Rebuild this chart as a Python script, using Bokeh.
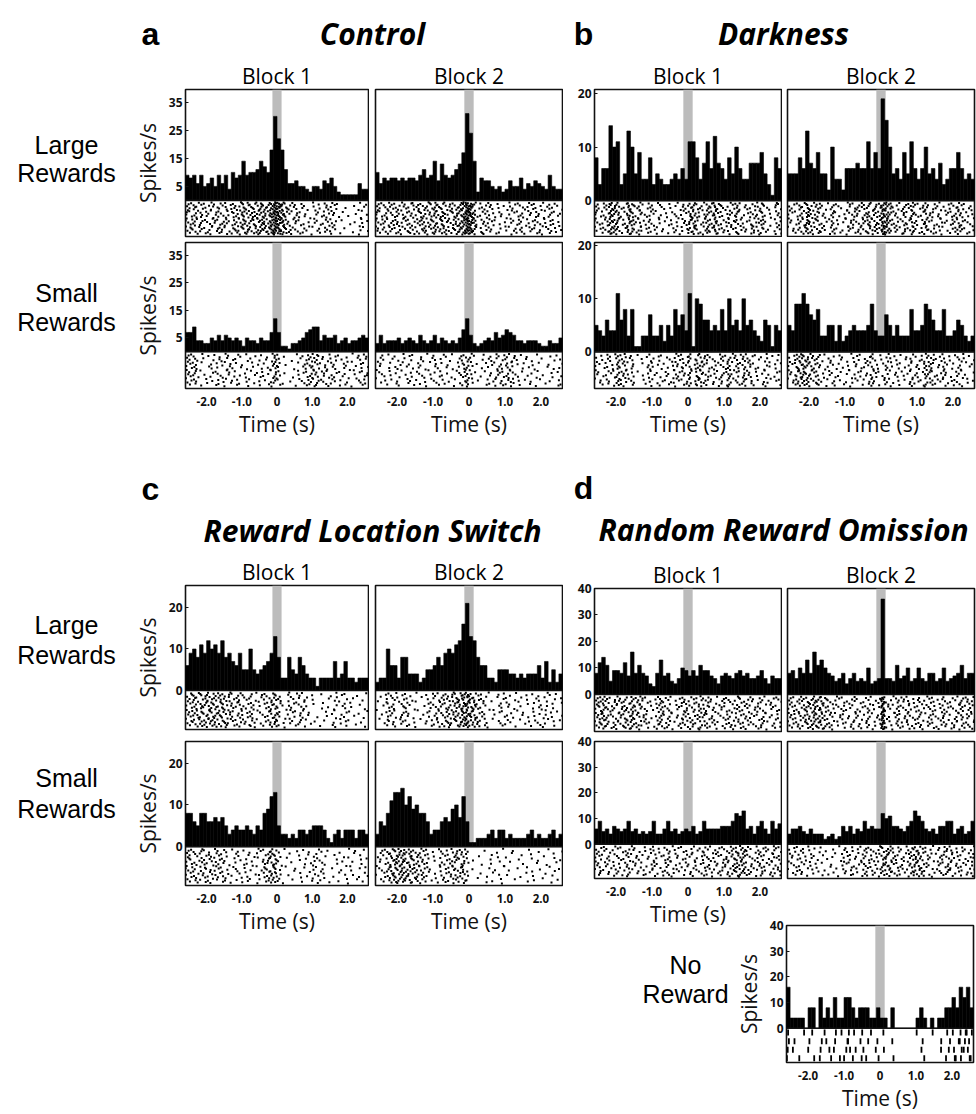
from bokeh.plotting import figure
from bokeh.models import Range1d, LinearAxis, FixedTicker, Label, Span, BoxAnnotation, Title
from bokeh.layouts import row, column
from bokeh.embed import file_html
from bokeh.resources import INLINE

# ---------------- data ----------------
BIN = 0.1
T0 = -2.6
N_BINS = 52
bin_centers = [round(T0 + BIN * (i + 0.5), 3) for i in range(N_BINS)]
x_ticks = [-2, -1, 0, 1, 2]
x_tick_labels = {-2: "-2.0", -1: "-1.0", 0: "0", 1: "1.0", 2: "2.0"}
cue_window = (-0.13, 0.13)

# firing rate (spikes/s) per 100 ms bin, -2.6 s .. 2.6 s
a_large_b1 = [9, 8, 9, 6, 9, 5, 6, 8, 5, 9, 6, 9, 4, 10, 8, 9, 14, 9, 10, 10,
              11, 14, 12, 10, 18, 30, 22, 18, 11, 6, 6, 7, 5, 5, 4, 3, 5, 5, 4, 7,
              6, 8, 5, 3, 2, 2, 2, 2, 2, 6, 4, 4]
a_large_b2 = [10, 6, 8, 7, 8, 8, 7, 8, 7, 8, 8, 7, 9, 11, 8, 9, 14, 7, 13, 9,
              8, 9, 11, 13, 17, 31, 24, 14, 3, 8, 7, 7, 5, 4, 5, 3, 4, 7, 5, 5,
              8, 4, 6, 5, 7, 6, 5, 4, 9, 5, 4, 4]
a_small_b1 = [7, 7, 9, 4, 4, 3, 3, 5, 4, 6, 4, 6, 5, 4, 5, 4, 2, 5, 4, 4,
              3, 5, 4, 4, 7, 12, 7, 2, 2, 1, 3, 3, 4, 5, 7, 8, 9, 9, 4, 6,
              5, 5, 6, 3, 4, 5, 3, 4, 4, 5, 6, 5]
a_small_b2 = [3, 6, 3, 4, 4, 4, 5, 3, 4, 5, 4, 3, 6, 4, 3, 4, 6, 3, 5, 4,
              3, 4, 3, 5, 8, 12, 6, 3, 2, 3, 4, 5, 4, 7, 5, 6, 8, 7, 6, 4,
              4, 3, 4, 4, 4, 3, 2, 2, 4, 3, 3, 5]
b_large_b1 = [8, 3, 6, 6, 14, 10, 11, 3, 5, 13, 10, 5, 9, 4, 4, 8, 3, 5, 4, 3,
              3, 4, 5, 4, 6, 4, 11, 11, 8, 4, 7, 11, 6, 12, 7, 6, 4, 8, 5, 10,
              6, 4, 4, 7, 7, 7, 9, 5, 3, 1, 8, 6]
b_large_b2 = [5, 5, 5, 8, 6, 13, 7, 6, 9, 5, 5, 2, 10, 4, 4, 2, 6, 6, 6, 7,
              6, 6, 11, 6, 9, 6, 19, 15, 10, 5, 6, 4, 9, 5, 11, 6, 4, 6, 10, 5,
              6, 4, 7, 3, 4, 6, 6, 9, 6, 4, 5, 4]
b_small_b1 = [5, 4, 3, 6, 4, 4, 11, 6, 8, 3, 8, 1, 1, 3, 3, 7, 3, 3, 5, 2,
              5, 3, 8, 5, 7, 4, 11, 1, 10, 9, 6, 6, 4, 5, 4, 8, 4, 10, 5, 6,
              4, 10, 5, 6, 4, 3, 2, 6, 5, 1, 5, 4]
b_small_b2 = [5, 4, 9, 9, 11, 9, 7, 6, 8, 3, 3, 5, 5, 2, 5, 2, 3, 4, 5, 4,
              4, 4, 5, 9, 4, 3, 3, 7, 5, 3, 5, 3, 3, 3, 8, 4, 4, 5, 9, 8,
              6, 4, 4, 8, 3, 3, 4, 6, 5, 3, 2, 3]
c_large_b1 = [6, 9, 10, 8, 11, 9, 12, 10, 11, 9, 12, 8, 9, 7, 6, 9, 5, 5, 10, 5,
              4, 5, 6, 7, 9, 13, 8, 3, 3, 8, 5, 4, 8, 6, 4, 3, 3, 1, 3, 3,
              3, 3, 7, 3, 4, 7, 3, 3, 2, 3, 3, 3]
c_large_b2 = [2, 3, 3, 10, 6, 6, 3, 8, 8, 4, 4, 4, 2, 3, 5, 5, 6, 8, 6, 9,
              10, 9, 11, 12, 16, 21, 13, 12, 8, 6, 6, 3, 3, 2, 5, 5, 5, 4, 4, 3,
              4, 3, 4, 4, 4, 6, 3, 7, 2, 5, 2, 4]
c_small_b1 = [8, 8, 6, 5, 8, 8, 6, 6, 7, 6, 7, 5, 3, 4, 5, 4, 4, 5, 4, 3,
              5, 4, 8, 9, 12, 13, 5, 3, 3, 2, 3, 2, 4, 4, 3, 4, 5, 5, 5, 4,
              2, 1, 3, 4, 2, 4, 4, 4, 2, 4, 4, 3]
c_small_b2 = [3, 6, 5, 8, 11, 13, 13, 14, 10, 12, 9, 10, 8, 8, 6, 3, 4, 4, 6, 7,
              6, 9, 10, 7, 12, 6, 1, 1, 2, 2, 2, 3, 4, 2, 4, 4, 2, 3, 2, 2,
              2, 2, 3, 4, 2, 3, 2, 2, 3, 4, 2, 3]
d_large_b1 = [8, 12, 14, 11, 5, 9, 9, 8, 12, 7, 16, 8, 11, 8, 7, 4, 3, 8, 13, 7,
              8, 5, 4, 6, 10, 9, 7, 9, 7, 11, 9, 9, 7, 6, 4, 7, 8, 7, 6, 8,
              9, 7, 8, 6, 6, 7, 9, 6, 4, 7, 6, 6]
d_large_b2 = [8, 9, 6, 10, 8, 13, 8, 16, 11, 13, 10, 8, 7, 5, 6, 8, 4, 6, 8, 5,
              6, 5, 10, 4, 5, 6, 36, 6, 6, 5, 11, 6, 7, 10, 5, 6, 10, 6, 5, 8,
              8, 5, 6, 10, 5, 6, 7, 8, 11, 6, 8, 8]
d_small_b1 = [6, 9, 5, 6, 4, 7, 6, 5, 6, 9, 5, 6, 4, 5, 4, 5, 9, 4, 4, 6,
              9, 5, 6, 4, 5, 6, 5, 7, 4, 5, 9, 6, 6, 6, 6, 7, 7, 7, 9, 12,
              11, 13, 6, 7, 4, 7, 9, 6, 4, 9, 6, 8]
d_small_b2 = [4, 6, 6, 7, 5, 4, 6, 4, 4, 4, 2, 3, 4, 2, 3, 7, 5, 7, 4, 6,
              5, 9, 6, 7, 6, 6, 12, 10, 11, 7, 7, 6, 5, 7, 9, 13, 11, 9, 6, 5,
              6, 4, 7, 7, 9, 9, 4, 6, 7, 4, 5, 9]
d_no_reward = [16, 4, 4, 4, 4, 0, 8, 8, 0, 12, 4, 8, 4, 12, 4, 4, 12, 12, 8, 4,
               8, 8, 8, 4, 4, 8, 4, 4, 0, 8, 0, 0, 0, 0, 0, 0, 4, 8, 4, 0,
               4, 0, 4, 4, 8, 8, 12, 8, 16, 12, 16, 8]

panel_titles = ["Control", "Darkness", "Reward Location Switch", "Random Reward Omission"]
panel_letters = ["a", "b", "c", "d"]
block_labels = ["Block 1", "Block 2"]
row_labels = [("Large", "Rewards"), ("Small", "Rewards")]
y_ticks_by_panel = {"a": [5, 15, 25, 35], "b": [0, 10, 20], "c": [0, 10, 20],
                    "d": [0, 10, 20, 30, 40]}

# ---------------- styling ----------------
SANS = "Open Sans"
ARIAL = "Liberation Sans"
INK = "#111111"
CUE = "#bcbcbc"


def halton(n, base):
    f, r = 1.0, 0.0
    while n > 0:
        f /= base
        r += f * (n % base)
        n //= base
    return r


def raster_points(rates, scale, ymin, rows=None):
    """Tick marks laid out from the binned rate (count per bin ~ rate), spread over the
    raster strip with a Halton sequence (optionally snapped to trial rows)."""
    depth = -ymin
    xs, ys = [], []
    n = 0
    for i, r in enumerate(rates):
        c = int(round(r * scale))
        left = T0 + i * BIN
        for j in range(c):
            n += 1
            u = halton(n, 3)
            v = halton(n, 2)
            xs.append(left + BIN * u)
            if rows:
                ys.append(-(int(v * rows) + 0.5) * depth / rows)
            else:
                ys.append(-(0.05 + 0.9 * v) * depth)
    return xs, ys


def psth_plot(rates, w, h, bl, br, bt, bb, ymin, ymax, scale,
              yticks=None, ylabel=None, xaxis=False, xlabel=None, rows=None,
              block=None, transparent=False):
    p = figure(width=w, height=h, x_range=Range1d(T0, -T0), y_range=Range1d(ymin, ymax),
               min_border_left=bl, min_border_right=br, min_border_top=bt,
               min_border_bottom=bb, x_axis_type=None, y_axis_type=None,
               toolbar_location=None, output_backend="svg", title=None)
    p.outline_line_color = INK
    p.outline_line_width = 1.6
    if transparent:
        p.background_fill_color = None
        p.border_fill_color = None
    else:
        p.background_fill_color = "white"
        p.border_fill_color = "white"
    if block:
        p.title = Title(text=block, align="center", vertical_align="bottom",
                        text_font=SANS, text_font_size="21px", text_font_style="normal",
                        text_color="black", standoff=0)
    p.add_layout(BoxAnnotation(left=cue_window[0], right=cue_window[1], bottom=0, top=ymax,
                               fill_color=CUE, fill_alpha=1.0, line_color=None,
                               level="underlay"))
    p.vbar(x=bin_centers, top=rates, bottom=0, width=BIN, fill_color="black",
           line_color="black", line_width=0.6)
    xs, ys = raster_points(rates, scale, ymin, rows)
    if rows:
        p.rect(x=xs, y=ys, width=1.8, height=(-ymin / rows) * 0.7, width_units="screen",
               fill_color="black", line_color=None)
    else:
        p.rect(x=xs, y=ys, width=2.0, height=2.0, width_units="screen",
               height_units="screen", fill_color="black", line_color=None)
    p.add_layout(Span(location=0, dimension="width", line_color=INK, line_width=1.6))
    if yticks is not None:
        ax = LinearAxis(ticker=FixedTicker(ticks=yticks))
        ax.axis_line_color = None
        ax.major_tick_in = 3
        ax.major_tick_out = 0
        ax.major_tick_line_color = INK
        ax.minor_tick_line_color = None
        ax.major_label_text_font = SANS
        ax.major_label_text_font_size = "12px"
        ax.major_label_text_font_style = "bold"
        ax.major_label_text_color = INK
        ax.major_label_standoff = 3
        if ylabel:
            ax.axis_label = ylabel
            ax.axis_label_text_font = SANS
            ax.axis_label_text_font_size = "21px"
            ax.axis_label_text_font_style = "normal"
            ax.axis_label_text_color = INK
            ax.axis_label_standoff = 4
        p.add_layout(ax, "left")
    if xaxis:
        xa = LinearAxis(ticker=FixedTicker(ticks=x_ticks),
                        major_label_overrides=x_tick_labels)
        xa.axis_line_color = None
        xa.major_tick_line_color = None
        xa.major_tick_in = 0
        xa.major_tick_out = 0
        xa.minor_tick_line_color = None
        xa.major_label_text_font = SANS
        xa.major_label_text_font_size = "11.5px"
        xa.major_label_text_font_style = "bold"
        xa.major_label_text_color = INK
        xa.major_label_standoff = 8
        if xlabel:
            xa.axis_label = xlabel
            xa.axis_label_text_font = SANS
            xa.axis_label_text_font_size = "21px"
            xa.axis_label_text_font_style = "normal"
            xa.axis_label_text_color = INK
            xa.axis_label_standoff = 1
        p.add_layout(xa, "below")
    return p


def text_fig(w, h, items, bt=0, bb=0, transparent=False):
    """Text-only panel; data coordinates equal local pixel coordinates."""
    p = figure(width=w, height=h, x_range=Range1d(0, w), y_range=Range1d(h - bb, bt),
               min_border_left=0, min_border_right=0, min_border_top=bt,
               min_border_bottom=bb, x_axis_type=None, y_axis_type=None,
               toolbar_location=None, output_backend="svg", title=None)
    p.outline_line_color = None
    fill = None if transparent else "white"
    p.background_fill_color = fill
    p.border_fill_color = fill
    for (x, y, txt, font, size, style) in items:
        p.add_layout(Label(x=x, y=y, text=txt, text_font=font, text_font_size=size,
                           text_font_style=style, text_align="center",
                           text_baseline="middle", text_color="black"))
    return p


LETTER_FONT = (ARIAL, "32px", "bold")
TITLE_FONT = (SANS, "30px", "bold italic")
ROW_FONT = (ARIAL, "25px", "normal")
B1, B2 = block_labels

# ---------------- left column (a, c) ----------------
lt1 = text_fig(563, 55, [
    (150, 33, panel_letters[0], *LETTER_FONT),
    (372, 33, panel_titles[0], *TITLE_FONT),
])
t_a_large = text_fig(130, 184, [(66, 89, row_labels[0][0], *ROW_FONT),
                                (66, 117, row_labels[0][1], *ROW_FONT)], bt=34, bb=3)
a11 = psth_plot(a_large_b1, 239, 184, 51, 1, 34, 3, -12.9, 39.6, 1.1,
                yticks=y_ticks_by_panel["a"], ylabel="Spikes/s", block=B1)
a12 = psth_plot(a_large_b2, 194, 184, 6, 1, 34, 3, -12.9, 39.6, 1.1, block=B2)
t_a_small = text_fig(130, 201, [(66, 54, row_labels[1][0], *ROW_FONT),
                                (66, 83, row_labels[1][1], *ROW_FONT)], bt=3, bb=51)
a21 = psth_plot(a_small_b1, 239, 201, 51, 1, 3, 51, -13.4, 39.7, 1.1,
                yticks=y_ticks_by_panel["a"], ylabel="Spikes/s", xaxis=True, xlabel="Time (s)")
a22 = psth_plot(a_small_b2, 194, 201, 6, 1, 3, 51, -13.4, 39.7, 1.1,
                xaxis=True, xlabel="Time (s)")

lt2 = text_fig(563, 112, [
    (150, 48, panel_letters[2], *LETTER_FONT),
    (372, 90, panel_titles[2], *TITLE_FONT),
])
t_c_large = text_fig(130, 185, [(66, 72, row_labels[0][0], *ROW_FONT),
                                (66, 102, row_labels[0][1], *ROW_FONT)], bt=33, bb=8)
c11 = psth_plot(c_large_b1, 239, 185, 51, 1, 33, 8, -9.4, 25.3, 1.1,
                yticks=y_ticks_by_panel["c"], ylabel="Spikes/s", block=B1)
c12 = psth_plot(c_large_b2, 194, 185, 6, 1, 33, 8, -9.4, 25.3, 1.1, block=B2)
t_c_small = text_fig(130, 200, [(66, 41, row_labels[1][0], *ROW_FONT),
                                (66, 72, row_labels[1][1], *ROW_FONT)], bt=4, bb=51)
c21 = psth_plot(c_small_b1, 239, 200, 51, 1, 4, 51, -9.3, 25.2, 1.1,
                yticks=y_ticks_by_panel["c"], ylabel="Spikes/s", xaxis=True, xlabel="Time (s)")
c22 = psth_plot(c_small_b2, 194, 200, 6, 1, 4, 51, -9.3, 25.2, 1.1,
                xaxis=True, xlabel="Time (s)")

left_col = column(lt1, row(t_a_large, a11, a12), row(t_a_small, a21, a22),
                  lt2, row(t_c_large, c11, c12), row(t_c_small, c21, c22))

# ---------------- right column (b, d) ----------------
rt1 = text_fig(413, 55, [
    (20, 33, panel_letters[1], *LETTER_FONT),
    (220, 33, panel_titles[1], *TITLE_FONT),
])
b11 = psth_plot(b_large_b1, 219, 182, 31, 1, 34, 1, -6.7, 20.75, 1.3,
                yticks=y_ticks_by_panel["b"], block=B1)
b12 = psth_plot(b_large_b2, 194, 182, 5, 2, 34, 1, -6.7, 20.75, 1.3, block=B2)
b21 = psth_plot(b_small_b1, 219, 203, 31, 1, 5, 51, -6.9, 20.6, 1.3,
                yticks=y_ticks_by_panel["b"], xaxis=True, xlabel="Time (s)")
b22 = psth_plot(b_small_b2, 194, 203, 5, 2, 5, 51, -6.9, 20.6, 1.3,
                xaxis=True, xlabel="Time (s)")

rt2 = text_fig(413, 112, [
    (20, 47, panel_letters[3], *LETTER_FONT),
    (220, 89, panel_titles[3], *TITLE_FONT),
])
d11 = psth_plot(d_large_b1, 219, 181, 31, 1, 36, 2, -14.0, 40.0, 1.0,
                yticks=y_ticks_by_panel["d"], block=B1)
d12 = psth_plot(d_large_b2, 194, 181, 5, 2, 36, 2, -14.0, 40.0, 1.0, block=B2)
d21 = psth_plot(d_small_b1, 219, 197, 31, 1, 8, 45, -13.3, 40.0, 1.0,
                yticks=y_ticks_by_panel["d"], xaxis=True, xlabel="Time (s)")
d22 = psth_plot(d_small_b2, 194, 197, 5, 2, 8, 45, -13.3, 40.0, 1.0)

# "No Reward" row overlaps the blank lower margin of the row above (transparent canvases)
t_nr = text_fig(167, 208, [
    (122, 60, "No", *ROW_FONT),
    (122, 91, "Reward", *ROW_FONT),
], bt=19, bb=45, transparent=True)
nr = psth_plot(d_no_reward, 246, 208, 56, 3, 19, 45, -13.3, 40.0, 0.25,
               yticks=y_ticks_by_panel["d"], ylabel="Spikes/s", xaxis=True,
               xlabel="Time (s)", rows=4, transparent=True)
nr_row = row(t_nr, nr, margin=(-24, 0, 0, 0))

right_col = column(rt1, row(b11, b12), row(b21, b22), rt2, row(d11, d12),
                   row(d21, d22), nr_row)

layout = row(left_col, right_col)
open("out.html", "w").write(file_html(layout, INLINE))
